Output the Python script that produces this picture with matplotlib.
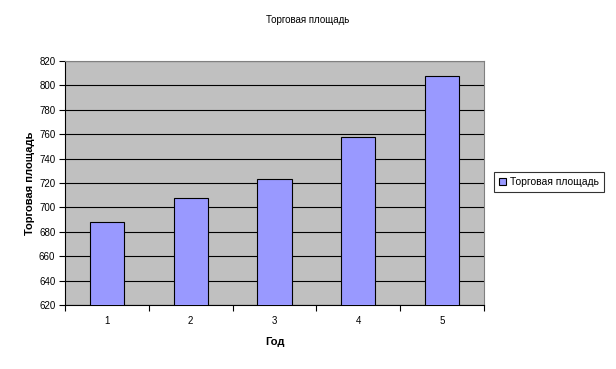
import matplotlib
matplotlib.use("Agg")
import matplotlib.pyplot as plt

years = [1, 2, 3, 4, 5]
area = [688, 708, 723, 758, 808]
title = "Торговая площадь"
series_name = "Торговая площадь"
xlabel = "Год"
ylabel = "Торговая площадь"

plt.rcParams['font.family'] = ['Liberation Sans', 'DejaVu Sans']

fig = plt.figure(figsize=(6.16, 3.69), dpi=100)
W, H = 616, 369
ax = fig.add_axes([65 / W, 1 - 305 / H, (484 - 65) / W, (305 - 61) / H])
ax.set_facecolor('#C0C0C0')
ax.bar(years, area, width=0.41, color='#9999FF', edgecolor='black', linewidth=0.8,
       label=series_name, zorder=3)
ax.set_ylim(620, 820)
ax.set_yticks(range(620, 821, 20))
ax.yaxis.grid(True, color='black', linewidth=0.8, zorder=1)
ax.set_axisbelow(True)
ax.set_xlim(0.5, 5.5)
ax.set_xticks([0.5, 1.5, 2.5, 3.5, 4.5, 5.5])
ax.set_xticklabels([])
ax.set_xticks(years, minor=True)
ax.set_xticklabels([str(y) for y in years], minor=True)
ax.tick_params(axis='x', which='minor', length=0, pad=8, labelsize=7)
ax.tick_params(axis='x', which='major', length=4, direction='out', width=0.8)
ax.tick_params(axis='y', length=4, direction='out', width=0.8, labelsize=7, pad=3)
for s in ['top', 'right']:
    ax.spines[s].set_color('#808080')
    ax.spines[s].set_linewidth(0.8)
for s in ['left', 'bottom']:
    ax.spines[s].set_color('black')
    ax.spines[s].set_linewidth(0.8)

ax.set_xlabel(xlabel, fontsize=8, fontweight='bold', labelpad=8)
ax.set_ylabel(ylabel, fontsize=8, fontweight='bold', labelpad=3)
fig.text(308 / W, 1 - 20 / H, title, ha='center', va='center', fontsize=7)

leg = ax.legend(loc='center left', bbox_to_anchor=(494 / W, 1 - 182 / H),
                bbox_transform=fig.transFigure, fontsize=7.5, frameon=True,
                fancybox=False, edgecolor='black', handlelength=0.7, handleheight=0.7,
                handletextpad=0.4, borderpad=0.45, borderaxespad=0)
leg.get_frame().set_linewidth(0.8)

fig.savefig('out.png', dpi=100, facecolor='white')
